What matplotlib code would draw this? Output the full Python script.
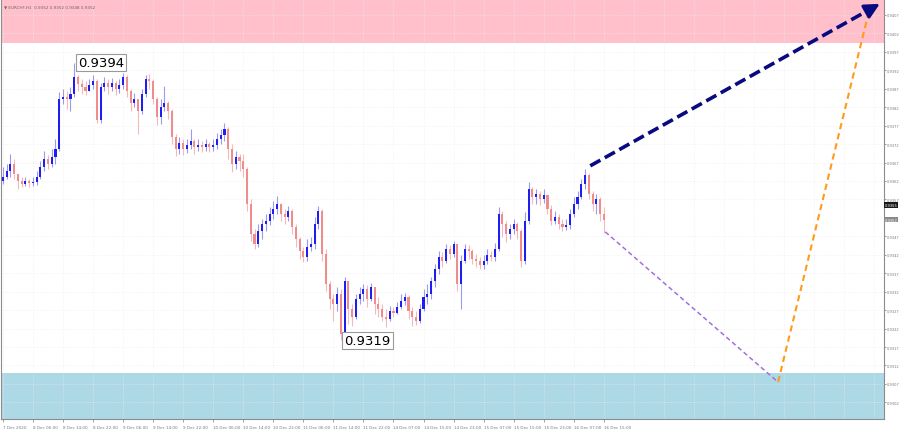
import matplotlib
matplotlib.use("Agg")
import matplotlib.pyplot as plt
import numpy as np

# ── EURCHF H1 bars ──
first_open = 0.93620

close = [
    0.93631, 0.93647, 0.93666, 0.93639, 0.93620, 0.93612, 0.93620, 0.93615, 0.93618, 0.93631,
    0.93658, 0.93680, 0.93666, 0.93685, 0.93707, 0.93842, 0.93848, 0.93842, 0.93856, 0.93902,
    0.93883, 0.93875, 0.93864, 0.93880, 0.93891, 0.93786, 0.93875, 0.93886, 0.93875, 0.93886,
    0.93870, 0.93880, 0.93902, 0.93864, 0.93832, 0.93842, 0.93810, 0.93856, 0.93897, 0.93891,
    0.93842, 0.93794, 0.93821, 0.93832, 0.93810, 0.93739, 0.93707, 0.93723, 0.93707, 0.93718,
    0.93729, 0.93712, 0.93718, 0.93712, 0.93720, 0.93712, 0.93718, 0.93734, 0.93745, 0.93761,
    0.93707, 0.93666, 0.93685, 0.93674, 0.93653, 0.93558, 0.93477, 0.93449, 0.93485, 0.93504,
    0.93512, 0.93531, 0.93544, 0.93558, 0.93531, 0.93523, 0.93539, 0.93496, 0.93463, 0.93431,
    0.93414, 0.93441, 0.93449, 0.93504, 0.93539, 0.93422, 0.93341, 0.93300, 0.93287, 0.93314,
    0.93206, 0.93349, 0.93273, 0.93252, 0.93300, 0.93314, 0.93328, 0.93300, 0.93333, 0.93287,
    0.93273, 0.93252, 0.93246, 0.93268, 0.93263, 0.93279, 0.93295, 0.93306, 0.93268, 0.93252,
    0.93241, 0.93273, 0.93306, 0.93314, 0.93349, 0.93382, 0.93414, 0.93403, 0.93436, 0.93422,
    0.93449, 0.93341, 0.93403, 0.93436, 0.93431, 0.93409, 0.93403, 0.93393, 0.93403, 0.93420,
    0.93414, 0.93436, 0.93531, 0.93504, 0.93477, 0.93490, 0.93504, 0.93485, 0.93403, 0.93512,
    0.93599, 0.93577, 0.93585, 0.93571, 0.93582, 0.93544, 0.93512, 0.93523, 0.93504, 0.93496,
    0.93501, 0.93531, 0.93558, 0.93577, 0.93612, 0.93636, 0.93585, 0.93558, 0.93571, 0.93531,
    0.93515,
]

high = [
    0.93658, 0.93666, 0.93693, 0.93680, 0.93639, 0.93631, 0.93631, 0.93626, 0.93631, 0.93647,
    0.93674, 0.93702, 0.93691, 0.93707, 0.93734, 0.93861, 0.93870, 0.93864, 0.93875, 0.93940,
    0.93907, 0.93897, 0.93891, 0.93897, 0.93907, 0.93897, 0.93886, 0.93902, 0.93897, 0.93899,
    0.93891, 0.93897, 0.93913, 0.93907, 0.93870, 0.93859, 0.93842, 0.93870, 0.93907, 0.93910,
    0.93897, 0.93848, 0.93842, 0.93878, 0.93837, 0.93815, 0.93748, 0.93739, 0.93734, 0.93734,
    0.93761, 0.93734, 0.93734, 0.93729, 0.93734, 0.93726, 0.93734, 0.93750, 0.93761, 0.93777,
    0.93767, 0.93720, 0.93702, 0.93693, 0.93693, 0.93658, 0.93571, 0.93490, 0.93504, 0.93517,
    0.93531, 0.93550, 0.93566, 0.93580, 0.93561, 0.93544, 0.93552, 0.93544, 0.93504, 0.93468,
    0.93441, 0.93463, 0.93468, 0.93523, 0.93552, 0.93544, 0.93436, 0.93349, 0.93314, 0.93333,
    0.93328, 0.93360, 0.93341, 0.93287, 0.93314, 0.93333, 0.93341, 0.93338, 0.93344, 0.93333,
    0.93306, 0.93287, 0.93273, 0.93281, 0.93279, 0.93292, 0.93314, 0.93317, 0.93311, 0.93279,
    0.93268, 0.93287, 0.93328, 0.93341, 0.93360, 0.93395, 0.93431, 0.93428, 0.93449, 0.93447,
    0.93458, 0.93447, 0.93420, 0.93449, 0.93447, 0.93436, 0.93422, 0.93414, 0.93420, 0.93436,
    0.93431, 0.93452, 0.93550, 0.93539, 0.93512, 0.93504, 0.93517, 0.93509, 0.93490, 0.93536,
    0.93618, 0.93604, 0.93599, 0.93593, 0.93599, 0.93582, 0.93555, 0.93539, 0.93531, 0.93517,
    0.93517, 0.93544, 0.93577, 0.93593, 0.93626, 0.93653, 0.93641, 0.93593, 0.93585, 0.93577,
    0.93550,
]

low = [
    0.93612, 0.93626, 0.93631, 0.93626, 0.93599, 0.93604, 0.93607, 0.93604, 0.93607, 0.93609,
    0.93626, 0.93647, 0.93653, 0.93658, 0.93666, 0.93700, 0.93829, 0.93815, 0.93810, 0.93848,
    0.93864, 0.93856, 0.93853, 0.93864, 0.93870, 0.93777, 0.93777, 0.93864, 0.93856, 0.93864,
    0.93853, 0.93859, 0.93870, 0.93848, 0.93810, 0.93821, 0.93748, 0.93802, 0.93848, 0.93870,
    0.93829, 0.93772, 0.93775, 0.93810, 0.93788, 0.93720, 0.93688, 0.93693, 0.93691, 0.93696,
    0.93707, 0.93693, 0.93702, 0.93699, 0.93702, 0.93699, 0.93702, 0.93707, 0.93720, 0.93729,
    0.93680, 0.93645, 0.93653, 0.93647, 0.93631, 0.93539, 0.93458, 0.93436, 0.93441, 0.93463,
    0.93485, 0.93501, 0.93517, 0.93531, 0.93512, 0.93504, 0.93512, 0.93477, 0.93441, 0.93409,
    0.93401, 0.93403, 0.93431, 0.93436, 0.93490, 0.93403, 0.93322, 0.93273, 0.93241, 0.93268,
    0.93189, 0.93192, 0.93233, 0.93227, 0.93246, 0.93287, 0.93295, 0.93279, 0.93295, 0.93260,
    0.93252, 0.93241, 0.93225, 0.93241, 0.93252, 0.93260, 0.93273, 0.93284, 0.93246, 0.93227,
    0.93230, 0.93235, 0.93268, 0.93287, 0.93300, 0.93333, 0.93368, 0.93387, 0.93398, 0.93409,
    0.93414, 0.93322, 0.93273, 0.93398, 0.93409, 0.93395, 0.93387, 0.93382, 0.93382, 0.93395,
    0.93403, 0.93403, 0.93431, 0.93468, 0.93455, 0.93463, 0.93477, 0.93463, 0.93387, 0.93395,
    0.93504, 0.93558, 0.93558, 0.93555, 0.93561, 0.93531, 0.93501, 0.93504, 0.93490, 0.93485,
    0.93487, 0.93490, 0.93523, 0.93544, 0.93571, 0.93599, 0.93571, 0.93539, 0.93531, 0.93512,
    0.93479,
]

time_labels = [
    "7 Dec 2020", "8 Dec 06:00", "8 Dec 14:00", "8 Dec 22:00", "9 Dec 06:00",
    "9 Dec 14:00", "9 Dec 22:00", "10 Dec 06:00", "10 Dec 14:00", "10 Dec 22:00",
    "11 Dec 06:00", "11 Dec 14:00", "11 Dec 22:00", "14 Dec 07:00", "14 Dec 15:00",
    "14 Dec 23:00", "15 Dec 07:00", "15 Dec 15:00", "15 Dec 23:00", "16 Dec 07:00",
    "16 Dec 15:00",
]
bars_per_label = 8

price_ticks = [0.9407, 0.9402, 0.9397, 0.9392, 0.9387, 0.9382, 0.9377, 0.9372,
               0.9367, 0.9362, 0.9357, 0.9347, 0.9342, 0.9337, 0.9332, 0.9327,
               0.9322, 0.9317, 0.9312, 0.9307, 0.9302]

# zones
resist_zone = (0.93995, 0.9420)
support_zone = (0.9290, 0.93100)

# forecast wave lines: (bar index, price)
wave_up_x = [156.4, 233.5]
wave_up_y = [0.93661, 0.94100]
wave_down_x = [160.4, 206.4]
wave_down_y = [0.93482, 0.93075]
wave_final_x = [206.4, 230.9]
wave_final_y = [0.93075, 0.94092]

ask_price = 0.93555

# ── derived ──
close = np.array(close)
high = np.array(high)
low = np.array(low)
opn = np.r_[first_open, close[:-1]]
idx = np.arange(len(close))
up = close >= opn

BLUE_BODY = '#1e1ef2'
BLUE_WICK = '#9a9af0'
RED_BODY = '#f08c8c'
RED_WICK = '#f6b9b9'

fig = plt.figure(figsize=(9, 4.31), dpi=100)
ax = fig.add_axes([0.001, 0.0255, 0.9812, 0.9745])
ax.set_xlim(-0.53, 234.6)
ax.set_ylim(0.92975, 0.94113)

# zones
ax.axhspan(*resist_zone, color='#ffc0cb', zorder=0, lw=0)
ax.axhspan(*support_zone, color='#add8e6', zorder=0, lw=0)

# faint grid
for k in range(0, 240, bars_per_label):
    ax.axvline(k, color='#ececec', lw=0.5, ls=':', zorder=0.5)
for p in price_ticks:
    ax.axhline(p, color='#ececec', lw=0.5, ls=':', zorder=0.5)

# candles
wick_hi = np.maximum(high, np.maximum(opn, close))
wick_lo = np.minimum(low, np.minimum(opn, close))
ax.vlines(idx[up], wick_lo[up], wick_hi[up], color=BLUE_WICK, lw=0.8, zorder=2)
ax.vlines(idx[~up], wick_lo[~up], wick_hi[~up], color=RED_WICK, lw=0.8, zorder=2)
body_h = np.maximum(np.abs(close - opn), 0.000012)
body_b = np.minimum(opn, close)
ax.bar(idx[up], body_h[up], bottom=body_b[up], width=0.55, color=BLUE_BODY, lw=0, zorder=3)
ax.bar(idx[~up], body_h[~up], bottom=body_b[~up], width=0.55, color=RED_BODY, lw=0, zorder=3)

# extreme labels
box = dict(boxstyle='square,pad=0.15', fc='white', ec='#9a9a9a', lw=0.8)
i_hi = int(np.argmax(high))
ax.annotate(f"{high[i_hi]:.4f}", xy=(i_hi, high[i_hi]), xytext=(2.5, 0),
            textcoords='offset points', ha='left', va='center',
            fontsize=9.5, color='black', bbox=box, zorder=5)
i_lo = int(np.argmin(low))
ax.annotate(f"{low[i_lo]:.4f}", xy=(i_lo, low[i_lo]), xytext=(2.5, 0),
            textcoords='offset points', ha='left', va='center',
            fontsize=9.5, color='black', bbox=box, zorder=5)

# forecast lines
ax.plot(wave_down_x, wave_down_y, color='#a070dc', lw=1.1, ls=(0, (3, 2)), zorder=4)
ax.plot(wave_final_x, wave_final_y, color='#ff9a1a', lw=1.5, ls=(0, (3, 2)), zorder=4)
slope = (wave_up_y[1] - wave_up_y[0]) / (wave_up_x[1] - wave_up_x[0])
ax.plot([wave_up_x[0], wave_up_x[1] - 2.5],
        [wave_up_y[0], wave_up_y[1] - 2.5 * slope],
        color='#0a0a80', lw=2.6, ls=(0, (3.2, 1.4)), zorder=6)
frac = 0.96
ax.annotate('', xy=(wave_up_x[1], wave_up_y[1]),
            xytext=(wave_up_x[0] + frac * (wave_up_x[1] - wave_up_x[0]),
                    wave_up_y[0] + frac * (wave_up_y[1] - wave_up_y[0])),
            arrowprops=dict(arrowstyle='-|>,head_length=0.9,head_width=0.45',
                            color='#0a0a80', lw=2.2, shrinkA=0, shrinkB=0),
            zorder=7)

# axes styling
ax.spines['top'].set_visible(False)
for s in ['left', 'bottom', 'right']:
    ax.spines[s].set_color('#8c8c8c')
    ax.spines[s].set_linewidth(0.8)

ax.yaxis.tick_right()
ax.set_yticks(price_ticks)
ax.set_yticklabels([f"{p:.4f}" for p in price_ticks])
ax.tick_params(axis='y', length=1.5, width=0.5, pad=0.8, labelsize=2.6, colors='#7a7a7a')

ax.set_xticks(np.arange(len(time_labels)) * bars_per_label)
ax.set_xticklabels(time_labels, ha='left')
ax.tick_params(axis='x', length=2.5, width=0.5, pad=1.5, labelsize=3, colors='#7a7a7a')

# price markers on the right scale
ax.text(1.001, ask_price, f"{ask_price:.4f}", transform=ax.get_yaxis_transform(),
        ha='left', va='center', fontsize=2.6, color='white',
        bbox=dict(boxstyle='square,pad=0.2', fc='#1a1a1a', ec='none'), clip_on=False)
ax.text(1.001, close[-1], f"{close[-1]:.4f}", transform=ax.get_yaxis_transform(),
        ha='left', va='center', fontsize=2.6, color='white',
        bbox=dict(boxstyle='square,pad=0.2', fc='#8a8a8a', ec='none'), clip_on=False)

# header
fig.text(0.004, 0.988, f"\u25bc EURCHF,H1  {close[-1]:.4f} {close[-1]:.4f} {low[-1]:.4f} {close[-1]:.4f}",
         ha='left', va='top', fontsize=3, color='#666666')

fig.savefig('out.png', dpi=100, facecolor='white')
